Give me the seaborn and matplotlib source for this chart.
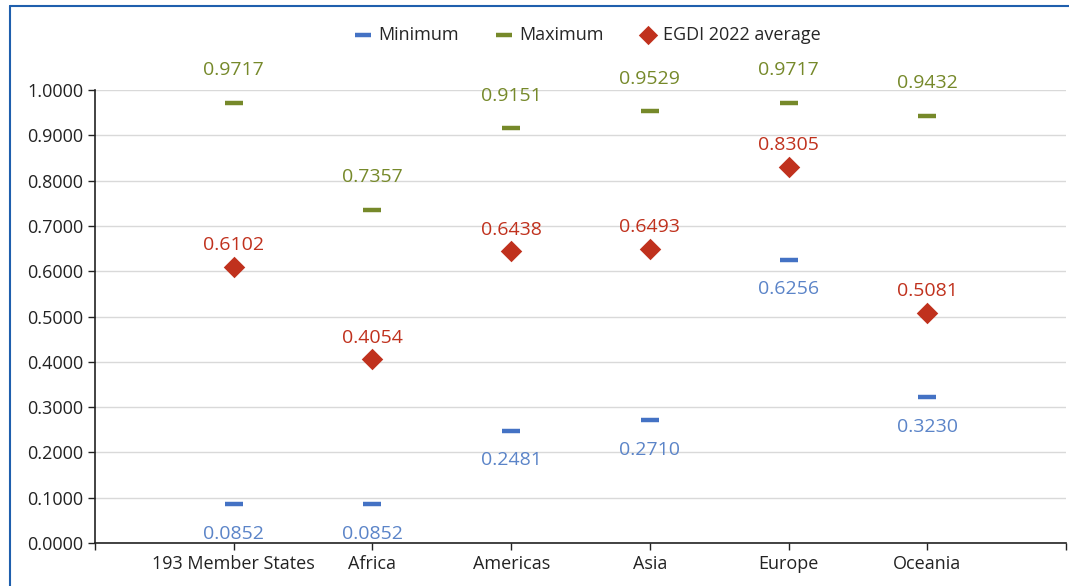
import pandas as pd
import seaborn as sns
import matplotlib.pyplot as plt
from matplotlib.lines import Line2D

# Dados
regioes = ['193 Member States', 'Africa', 'Americas', 'Asia', 'Europe', 'Oceania']
minimo = [0.0852, 0.0852, 0.2481, 0.2710, 0.6256, 0.3230]
maximo = [0.9717, 0.7357, 0.9151, 0.9529, 0.9717, 0.9432]
media = [0.6102, 0.4054, 0.6438, 0.6493, 0.8305, 0.5081]

cor_min = '#4472C4'
cor_max = '#76892A'
cor_med = '#C0311D'

df = pd.DataFrame({'Regiao': regioes, 'pos': range(len(regioes)),
                   'Minimum': minimo, 'Maximum': maximo, 'Media': media})

sns.set_style('white')
plt.rcParams['font.family'] = ['Open Sans', 'DejaVu Sans']

fig = plt.figure(figsize=(10.69, 5.86), dpi=100)
ax = fig.add_axes([95 / 1069, 1 - 543 / 586, (1066 - 95) / 1069, (543 - 90) / 586])

sns.scatterplot(data=df, x='pos', y='Minimum', marker='_', s=150, color=cor_min,
                linewidth=3.2, ax=ax, label='Minimum', zorder=3)
sns.scatterplot(data=df, x='pos', y='Maximum', marker='_', s=150, color=cor_max,
                linewidth=3.2, ax=ax, label='Maximum', zorder=3)
sns.scatterplot(data=df, x='pos', y='Media', marker='D', s=120, color=cor_med,
                edgecolor=cor_med, linewidth=0, ax=ax, label='EGDI 2022 average', zorder=3)

# Rótulos
for i, row in df.iterrows():
    ax.annotate(f"{row['Minimum']:.4f}", (row['pos'], row['Minimum']), xytext=(0, -15),
                textcoords='offset points', ha='center', va='top', fontsize=14, color='#5B84C8')
    ax.annotate(f"{row['Maximum']:.4f}", (row['pos'], row['Maximum']), xytext=(0, 17),
                textcoords='offset points', ha='center', va='bottom', fontsize=14, color=cor_max)
    ax.annotate(f"{row['Media']:.4f}", (row['pos'], row['Media']), xytext=(0, 9),
                textcoords='offset points', ha='center', va='bottom', fontsize=14, color=cor_med)

ax.set_xlim(-1, 6)
ax.set_ylim(0, 1.0)
ax.set_xticks(range(-1, 7))
ax.set_xticklabels([''] + regioes + [''])
ax.set_yticks([i / 10 for i in range(11)])
ax.set_yticklabels([f'{i / 10:.4f}' for i in range(11)])
ax.tick_params(axis='both', labelsize=13, colors='#222222', direction='out', length=5, width=1,
               left=True, bottom=True)
ax.set_xlabel('')
ax.set_ylabel('')
ax.grid(axis='y', color='#D9D9D9', linewidth=1)
ax.set_axisbelow(True)
for lado in ['top', 'right']:
    ax.spines[lado].set_visible(False)
ax.spines['left'].set_color('#222222')
ax.spines['bottom'].set_color('#222222')
ax.spines['left'].set_linewidth(1.2)
ax.spines['bottom'].set_linewidth(1.2)

ax.legend(loc='center', bbox_to_anchor=(588 / 1069, 1 - 35 / 586), bbox_transform=fig.transFigure,
          ncol=3, frameon=False, fontsize=13, handlelength=0.9, handletextpad=0.4,
          columnspacing=2.0, markerscale=0.9)

# Borda azul
fig.add_artist(Line2D([10 / 1069, 1], [1 - 6 / 586, 1 - 6 / 586], transform=fig.transFigure,
                      color='#1F5FAD', linewidth=1.5))
fig.add_artist(Line2D([10 / 1069, 10 / 1069], [0, 1 - 6 / 586], transform=fig.transFigure,
                      color='#1F5FAD', linewidth=1.5))

fig.savefig('out.png', dpi=100)
